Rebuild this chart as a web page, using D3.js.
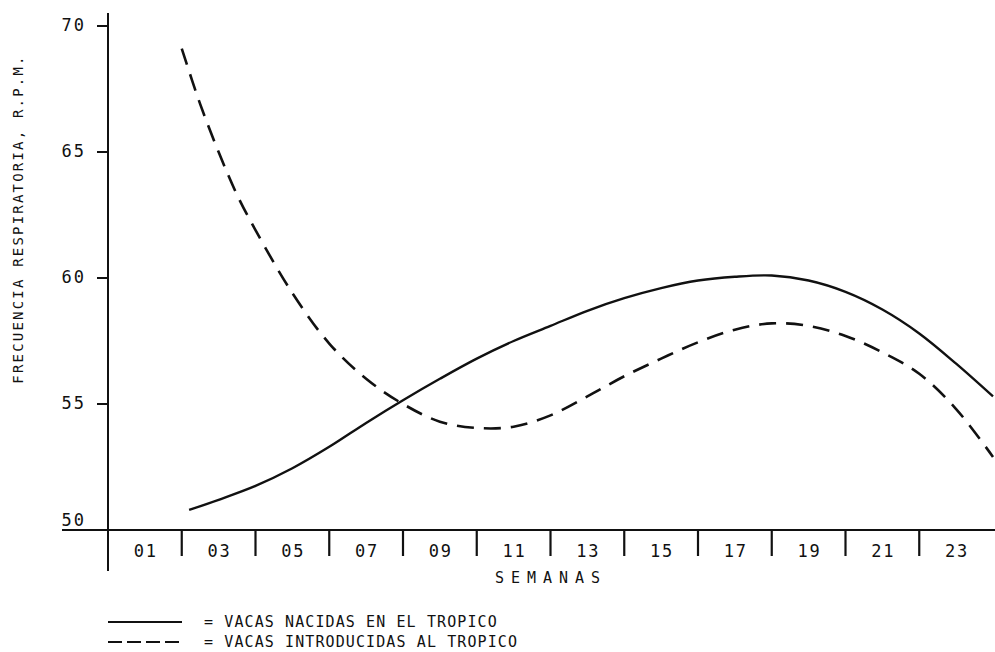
<!DOCTYPE html>
<html>
<head>
<meta charset="utf-8">
<script src="https://cdn.jsdelivr.net/npm/d3@7"></script>
<style>
  body { margin: 0; background: #fff; }
  text { font-family: "DejaVu Sans Mono", monospace; fill: #111; }
</style>
</head>
<body>
<script>
// weeks (x) and respiration rate (y)
var weeksNacidas = [2.2, 3, 4, 5, 6, 7, 8, 9, 10, 11, 12, 13, 14, 15, 16, 17, 18, 19, 20, 21, 22, 23, 24];
var valNacidas = [50.8, 51.2, 51.75, 52.45, 53.3, 54.25, 55.15, 56.0, 56.8, 57.5, 58.1, 58.7, 59.2, 59.6, 59.9, 60.05, 60.1, 59.9, 59.45, 58.75, 57.8, 56.6, 55.3];

var weeksIntro = [2, 2.5, 3, 3.5, 4, 5, 6, 7, 8, 9, 10, 11, 12, 13, 14, 15, 16, 17, 18, 19, 20, 21, 22, 23, 24];
var valIntro = [69.1, 66.9, 65.0, 63.3, 61.9, 59.4, 57.4, 56.0, 55.0, 54.3, 54.05, 54.1, 54.55, 55.3, 56.1, 56.8, 57.45, 57.95, 58.2, 58.1, 57.7, 57.05, 56.2, 54.8, 52.9];

var weekLabels = ["01", "03", "05", "07", "09", "11", "13", "15", "17", "19", "21", "23"];
var yTicks = [50, 55, 60, 65, 70];
var legendLabels = ["= VACAS NACIDAS EN EL TROPICO", "= VACAS INTRODUCIDAS AL TROPICO"];

var W = 995, H = 652;
var svg = d3.select("body").append("svg").attr("width", W).attr("height", H);

var x = d3.scaleLinear().domain([0, 24]).range([108, 993]);
var y = d3.scaleLinear().domain([50, 70]).range([530, 26]);

// y axis
svg.append("line")
  .attr("x1", x(0)).attr("x2", x(0))
  .attr("y1", 13).attr("y2", 571)
  .attr("stroke", "#111").attr("stroke-width", 2);

// x axis line (extends left past the y axis)
svg.append("line")
  .attr("x1", 62).attr("x2", W)
  .attr("y1", y(50)).attr("y2", y(50))
  .attr("stroke", "#111").attr("stroke-width", 2);

// y ticks + labels
yTicks.forEach(function (t) {
  if (t !== 50) {
    svg.append("line")
      .attr("x1", x(0) - 11).attr("x2", x(0))
      .attr("y1", y(t)).attr("y2", y(t))
      .attr("stroke", "#111").attr("stroke-width", 2);
  }
  svg.append("text")
    .attr("x", 86)
    .attr("y", t === 50 ? y(t) - 4 : y(t) + 5)
    .attr("text-anchor", "end")
    .attr("font-size", 17)
    .attr("letter-spacing", 2)
    .text(t);
});

// x band separators (every two weeks)
d3.range(2, 24, 2).forEach(function (w) {
  svg.append("line")
    .attr("x1", x(w)).attr("x2", x(w))
    .attr("y1", y(50)).attr("y2", 556)
    .attr("stroke", "#111").attr("stroke-width", 2.2);
});

// band labels
weekLabels.forEach(function (lab, i) {
  svg.append("text")
    .attr("x", x(i * 2 + 1) + 1)
    .attr("y", 557)
    .attr("text-anchor", "middle")
    .attr("font-size", 17)
    .attr("letter-spacing", 2)
    .text(lab);
});

svg.append("text")
  .attr("x", 551).attr("y", 583)
  .attr("text-anchor", "middle")
  .attr("font-size", 15)
  .attr("letter-spacing", 7)
  .text("SEMANAS");

svg.append("text")
  .attr("transform", "translate(23,219) rotate(-90)")
  .attr("text-anchor", "middle")
  .attr("font-size", 14)
  .attr("letter-spacing", 2.2)
  .text("FRECUENCIA RESPIRATORIA, R.P.M.");

// curves
var line = d3.line()
  .x(function (d) { return x(d[0]); })
  .y(function (d) { return y(d[1]); })
  .curve(d3.curveCatmullRom.alpha(0.5));

svg.append("path")
  .datum(d3.zip(weeksNacidas, valNacidas))
  .attr("d", line)
  .attr("fill", "none")
  .attr("stroke", "#111")
  .attr("stroke-width", 2.4);

svg.append("path")
  .datum(d3.zip(weeksIntro, valIntro))
  .attr("d", line)
  .attr("fill", "none")
  .attr("stroke", "#111")
  .attr("stroke-width", 2.6)
  .attr("stroke-dasharray", "17,10");

// legend
legendLabels.forEach(function (lab, i) {
  var ly = 622 + i * 20;
  svg.append("line")
    .attr("x1", 108).attr("x2", 182)
    .attr("y1", ly).attr("y2", ly)
    .attr("stroke", "#111").attr("stroke-width", 2)
    .attr("stroke-dasharray", i === 0 ? null : "14,5");
  svg.append("text")
    .attr("x", 204).attr("y", ly + 5)
    .attr("font-size", 15)
    .attr("letter-spacing", 1.1)
    .text(lab);
});
</script>
</body>
</html>
